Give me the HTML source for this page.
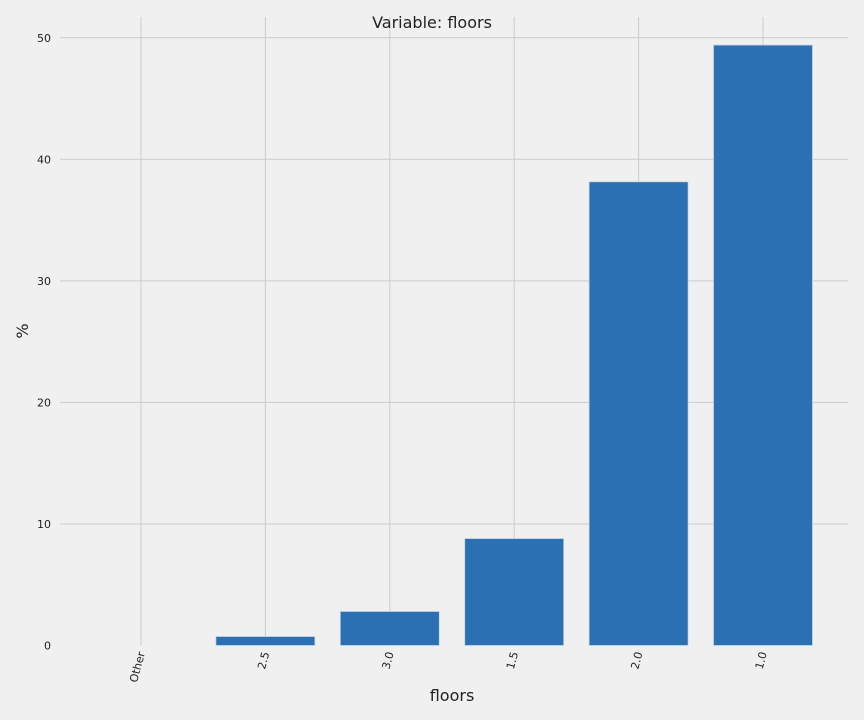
<!DOCTYPE html>
<html><head><meta charset="utf-8"><style>
body{margin:0;background:#f0f0f0;}
svg{display:block;font-family:"DejaVu Sans","Liberation Sans",sans-serif;}
</style></head><body>
<svg id="chart" width="864" height="720" viewBox="0 0 864 720">
<rect width="864" height="720" fill="#f0f0f0"/>
<g id="grid"></g><g id="bars"></g><g id="labels"></g>
<text x="432" y="28" text-anchor="middle" font-size="16" fill="#222">Variable: floors</text>
<text x="452" y="701" text-anchor="middle" font-size="16" fill="#222">floors</text>
<text x="0" y="0" transform="translate(28,331) rotate(-90)" text-anchor="middle" font-size="16" fill="#222">%</text>
</svg>
<script>
const categories = ["Other","2.5","3.0","1.5","2.0","1.0"];
const values = [0, 0.74, 2.8, 8.8, 38.15, 49.4];
const yTicks = [0,10,20,30,40,50];
const ns="http://www.w3.org/2000/svg";
const y0=645.5, pxPer=12.155;
function y(v){return y0-v*pxPer;}
function x(i){return 141+i*124.4;}
function mk(t,a,p){const e=document.createElementNS(ns,t);for(const k in a)e.setAttribute(k,a[k]);p.appendChild(e);return e;}
const grid=document.getElementById('grid'),bars=document.getElementById('bars'),labels=document.getElementById('labels');
yTicks.forEach(t=>{
  if(t!==0){
    const l=mk('line',{x1:60,x2:848,y1:y(t),y2:y(t),stroke:'#cbcbcb','stroke-width':1},grid);
    
    
  }
  const tx=mk('text',{x:51,y:y(t)+4,'text-anchor':'end','font-size':11,fill:'#222'},labels);
  tx.textContent=t;
  
  
});
categories.forEach((c,i)=>{
  const l=mk('line',{x1:x(i),x2:x(i),y1:17,y2:y0,stroke:'#cbcbcb','stroke-width':1},grid);
  
  
  const v=values[i];
  if(v>0){
    const r=mk('rect',{x:x(i)-49.5,y:y(v),width:99,height:y0-y(v),fill:'#2b70b2',stroke:'#c8d6e5','stroke-width':0.8},bars);
    
    
  }
  const tx=mk('text',{x:0,y:0,transform:`translate(${x(i)+4},${653}) rotate(-75)`,'text-anchor':'end','font-size':11,fill:'#222'},labels);
  tx.textContent=c;
  
  
});
</script>
</body></html>
